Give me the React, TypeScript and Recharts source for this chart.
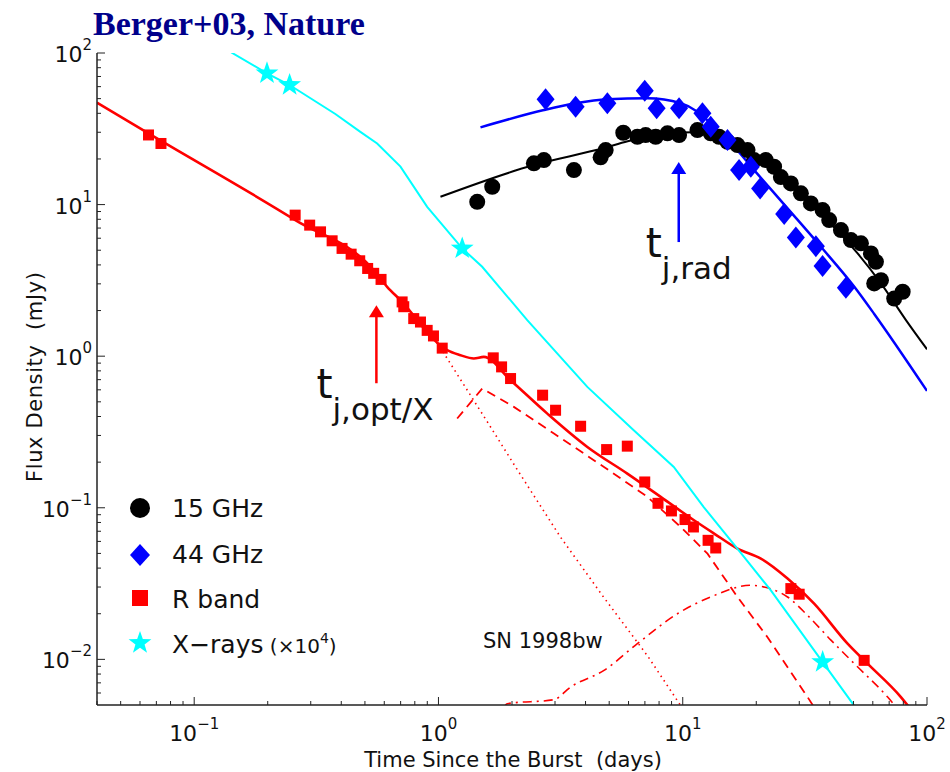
import React from 'react';
import { ComposedChart, Line, Scatter, XAxis, YAxis, ReferenceLine } from 'recharts';

// ---------- data (time in days, flux density in mJy) ----------
const rBandObs: [number, number][] = [
  [0.065, 28.8], [0.0731, 25.3], [0.259, 8.52], [0.297, 7.32], [0.329, 6.61], [0.367, 5.77],
  [0.403, 5.14], [0.439, 4.71], [0.476, 4.26], [0.513, 3.79], [0.543, 3.52], [0.582, 3.21],
  [0.71, 2.28], [0.721, 2.12], [0.792, 1.77], [0.844, 1.68], [0.899, 1.48], [0.954, 1.36],
  [1.036, 1.13], [1.676, 0.975], [1.813, 0.85], [1.973, 0.712], [2.669, 0.553], [3.016, 0.44],
  [3.819, 0.345], [4.88, 0.242], [5.93, 0.255], [6.99, 0.148], [7.92, 0.107], [8.99, 0.0953],
  [10.22, 0.0836], [11.06, 0.0747], [12.7, 0.061], [13.65, 0.0543], [27.71, 0.0293],
  [29.97, 0.0269], [55.3, 0.00985],
];
const xrayObs: [number, number][] = [[0.1986, 73.5], [0.2458, 61.5], [1.251, 5.14], [37.4, 0.0096]];
const ghz15Obs: [number, number][] = [
  [1.441, 10.43], [1.66, 13.11], [2.458, 18.71], [2.701, 19.67], [3.585, 16.89], [4.612, 20.49],
  [4.836, 22.89], [5.71, 29.78], [6.52, 28.03], [7.05, 28.76], [7.75, 28.03], [8.66, 29.51],
  [9.66, 28.76], [11.49, 31.02], [13.02, 29.51], [14.08, 28.03], [15.25, 25.97], [16.75, 24.7],
  [18.42, 22.89], [19.6, 19.67], [21.88, 19.67], [23.66, 17.77], [25.22, 15.19], [27.71, 13.8],
  [30.45, 11.86], [33.46, 10.18], [37.37, 9.2], [39.78, 7.9], [44.43, 6.79], [48.82, 5.83],
  [53.64, 5.55], [58.95, 4.76], [61.8, 4.19], [60.8, 3.02], [64.8, 3.17], [73.4, 2.4], [79.5, 2.66],
];
const ghz44Obs: [number, number][] = [
  [2.745, 49.5], [3.643, 44.2], [4.914, 46.6], [6.99, 56.4], [7.82, 43.2], [9.66, 43.2],
  [12.04, 40.0], [13.02, 32.6], [15.25, 26.7], [17.01, 16.89], [19.0, 17.77], [20.74, 12.79],
  [26.02, 8.66], [29.05, 6.06], [35.08, 5.32], [37.37, 3.93], [46.56, 2.83],
];

// model curves
const rBandModel: [number, number][] = [
  [0.04, 47.0], [0.065, 29.5], [0.2594, 7.9], [0.543, 3.7], [0.6163, 2.87], [0.699, 2.34],
  [1.036, 1.15], [1.086, 1.095], [1.231, 1.015], [1.395, 0.966], [1.533, 0.989], [1.973, 0.694],
  [2.79, 0.418], [4.068, 0.252], [5.93, 0.168], [8.125, 0.118], [11.12, 0.0827], [13.44, 0.0676],
  [16.75, 0.0538], [20.88, 0.0462], [26.86, 0.0341], [34.52, 0.0233], [47.3, 0.0127],
  [57.1, 0.00937], [78.2, 0.00564], [87.5, 0.0045],
];
const rBandEarly: [number, number][] = [
  [0.96, 1.32], [1.588, 0.367], [2.108, 0.177], [3.162, 0.0639], [4.745, 0.0257], [7.19, 0.0105], [10.5, 0.0042],
];
const rBandJet: [number, number][] = [
  [1.193, 0.388], [1.51, 0.612], [2.035, 0.463], [2.969, 0.309], [4.76, 0.186], [7.17, 0.118],
  [9.81, 0.0747], [12.63, 0.0498], [16.75, 0.0258], [22.24, 0.014], [32.44, 0.00564], [36.5, 0.0042],
];
const snModel: [number, number][] = [
  [1.85, 0.0048], [1.912, 0.0051], [2.969, 0.00542], [3.475, 0.00657], [4.76, 0.00846],
  [6.52, 0.0127], [9.51, 0.02], [13.02, 0.0258], [19.0, 0.0308], [21.54, 0.03], [26.86, 0.0258],
  [32.44, 0.0195], [40.43, 0.0134], [50.4, 0.00937], [69.0, 0.00564], [76.8, 0.0046],
];
const xrayModel: [number, number][] = [
  [0.13, 113], [0.1431, 100], [0.1986, 73.5], [0.2458, 61.5], [0.3783, 39.6],
  [0.4789, 30.2], [0.561, 25.3], [0.699, 17.8], [0.899, 9.67], [1.251, 5.14], [1.51, 3.89],
  [2.309, 1.73], [4.068, 0.627], [6.3, 0.325], [9.19, 0.186], [12.19, 0.101], [16.96, 0.0524],
  [22.95, 0.0285], [37.4, 0.0096], [47.9, 0.00553], [52, 0.0046],
];
const ghz15Model: [number, number][] = [
  [1.019, 11.26], [2.451, 18.23], [4.745, 23.6], [5.95, 26.2], [7.61, 28.5], [9.81, 29.9],
  [11.09, 30.0], [13.02, 28.8], [14.72, 26.8], [17.3, 23.4], [20.24, 20.2], [27.71, 13.45],
  [37.84, 8.31], [52.0, 4.76], [64.8, 3.02], [82.0, 1.73], [100, 1.11],
];
const ghz44Model: [number, number][] = [
  [1.486, 32.3], [2.701, 42.05], [3.643, 46.6], [4.914, 49.5], [7.17, 50.2], [9.81, 46.6],
  [11.49, 41.0], [13.44, 32.6], [16.23, 24.07], [19.6, 16.89], [26.86, 9.44], [36.78, 5.27],
  [50.4, 2.87], [60.8, 1.9], [100, 0.59],
];

// arrows (jet break times)
const optArrow: [number, number][] = [[0.557, 0.663], [0.557, 2.17]];
const radArrow: [number, number][] = [[9.63, 5.66], [9.63, 19.1]];

// axes
const xDomain: [number, number] = [0.04, 100];
const yDomain: [number, number] = [0.005, 100];
const xMajorTicks = [0.1, 1, 10, 100];
const xMajorLabels = ['\u22121', '0', '1', '2'];
const xMinorTicks = [0.04, 0.05, 0.06, 0.07, 0.08, 0.09, 0.2, 0.3, 0.4, 0.5, 0.6, 0.7, 0.8, 0.9,
  2, 3, 4, 5, 6, 7, 8, 9, 20, 30, 40, 50, 60, 70, 80, 90];
const yMajorTicks = [0.01, 0.1, 1, 10, 100];
const yMajorLabels = ['\u22122', '\u22121', '0', '1', '2'];
const yMinorTicks = [0.006, 0.007, 0.008, 0.009, 0.02, 0.03, 0.04, 0.05, 0.06, 0.07, 0.08, 0.09,
  0.2, 0.3, 0.4, 0.5, 0.6, 0.7, 0.8, 0.9, 2, 3, 4, 5, 6, 7, 8, 9, 20, 30, 40, 50, 60, 70, 80, 90];
const xTicks = [...xMajorTicks, ...xMinorTicks].sort((a, b) => a - b);
const yTicks = [...yMajorTicks, ...yMinorTicks].sort((a, b) => a - b);

const legendItems = ['15 GHz', '44 GHz', 'R band', 'X\u2212rays'];

const pts = (a: [number, number][]) => a.map(([t, f]) => ({ t, f }));

const FONT = '"DejaVu Sans", sans-serif';
const AX = '#222';

function starPath(cx: number, cy: number, R: number) {
  const r = R * 0.4;
  let d = '';
  for (let i = 0; i < 10; i++) {
    const ang = -Math.PI / 2 + (i * Math.PI) / 5;
    const rad = i % 2 === 0 ? R : r;
    d += (i === 0 ? 'M' : 'L') + (cx + rad * Math.cos(ang)).toFixed(2) + ',' + (cy + rad * Math.sin(ang)).toFixed(2);
  }
  return d + 'Z';
}

const CircleShape = (p: any) => <circle cx={p.cx} cy={p.cy} r={8} fill="#000" />;
const DiamondShape = (p: any) => (
  <path d={`M${p.cx},${p.cy - 11}L${p.cx + 9},${p.cy}L${p.cx},${p.cy + 11}L${p.cx - 9},${p.cy}Z`} fill="#0000FF" />
);
const SquareShape = (p: any) => <rect x={p.cx - 5.5} y={p.cy - 5.5} width={11} height={11} fill="#FF0000" />;
const StarShape = (p: any) => <path d={starPath(p.cx, p.cy, 12)} fill="#00FFFF" />;

const BottomTick = (p: any) => {
  const i = xMajorTicks.indexOf(p.payload.value);
  return (
    <g>
      <line x1={p.x} x2={p.x} y1={p.y} y2={p.y - (i >= 0 ? 8 : 4)} stroke={AX} strokeWidth={1} />
      {i >= 0 && (
        <text x={p.x} y={p.y + 36} textAnchor="middle" fontFamily={FONT} fontSize={22} fill="#111">
          10<tspan dy={-12} fontSize={15}>{xMajorLabels[i]}</tspan>
        </text>
      )}
    </g>
  );
};
const TopTick = (p: any) => {
  const i = xMajorTicks.indexOf(p.payload.value);
  return <line x1={p.x} x2={p.x} y1={p.y} y2={p.y + (i >= 0 ? 8 : 4)} stroke={AX} strokeWidth={1} />;
};
const LeftTick = (p: any) => {
  const i = yMajorTicks.indexOf(p.payload.value);
  return (
    <g>
      <line x1={p.x} x2={p.x + (i >= 0 ? 8 : 4)} y1={p.y} y2={p.y} stroke={AX} strokeWidth={1} />
      {i >= 0 && (
        <text x={p.x - 5} y={p.y + 9} textAnchor="end" fontFamily={FONT} fontSize={22} fill="#111">
          10<tspan dy={-12} fontSize={15}>{yMajorLabels[i]}</tspan>
        </text>
      )}
    </g>
  );
};
const RightTick = (p: any) => {
  const i = yMajorTicks.indexOf(p.payload.value);
  return <line x1={p.x} x2={p.x - (i >= 0 ? 8 : 4)} y1={p.y} y2={p.y} stroke={AX} strokeWidth={1} />;
};

const arrowShape = (color: string, label: string, tdx: number) => (p: any) => {
  const { x1, y1, x2, y2 } = p;
  return (
    <g>
      <line x1={x1} y1={y1} x2={x2} y2={y2 + 11} stroke={color} strokeWidth={2.5} />
      <path d={`M${x2},${y2}L${x2 + 7.5},${y2 + 12}L${x2 - 7.5},${y2 + 12}Z`} fill={color} />
      <text x={x1 + tdx} y={y1 + 15} fontFamily={FONT} fontSize={41} fill="#111">
        t<tspan dy={22} fontSize={31}>{label}</tspan>
      </text>
    </g>
  );
};

export default function App() {
  const common = { xAxisId: 'b', yAxisId: 'l', isAnimationActive: false } as const;
  return (
    <div style={{ position: 'absolute', left: 0, top: 0, width: 950, height: 772, background: '#fff' }}>
      <ComposedChart width={950} height={772} margin={{ top: 53, right: 23, bottom: 27, left: 37 }}>
        <XAxis xAxisId="b" type="number" dataKey="t" scale="log" domain={xDomain} allowDataOverflow
          ticks={xTicks} interval={0} tick={BottomTick} tickLine={false} tickSize={0} tickMargin={0}
          height={40} axisLine={{ stroke: AX, strokeWidth: 1.5 }} />
        <XAxis xAxisId="t" orientation="top" type="number" dataKey="t" scale="log" domain={xDomain} allowDataOverflow
          ticks={xTicks} interval={0} tick={TopTick} tickLine={false} tickSize={0} tickMargin={0}
          height={0} axisLine={{ stroke: AX, strokeWidth: 1.5 }} />
        <YAxis yAxisId="l" type="number" dataKey="f" scale="log" domain={yDomain} allowDataOverflow
          ticks={yTicks} interval={0} tick={LeftTick} tickLine={false} tickSize={0} tickMargin={0}
          width={60} axisLine={{ stroke: AX, strokeWidth: 1.5 }} />
        <YAxis yAxisId="r" orientation="right" type="number" dataKey="f" scale="log" domain={yDomain} allowDataOverflow
          ticks={yTicks} interval={0} tick={RightTick} tickLine={false} tickSize={0} tickMargin={0}
          width={0} axisLine={{ stroke: AX, strokeWidth: 1.5 }} />

        <Line {...common} data={pts(rBandEarly)} dataKey="f" type="linear" dot={false} stroke="#FF0000" strokeWidth={1.6} strokeDasharray="1.5 4" />
        <Line {...common} data={pts(rBandJet)} dataKey="f" type="linear" dot={false} stroke="#FF0000" strokeWidth={1.8} strokeDasharray="9 6" />
        <Line {...common} data={pts(snModel)} dataKey="f" type="monotone" dot={false} stroke="#FF0000" strokeWidth={1.6} strokeDasharray="9 5 2 5" />
        <Line {...common} data={pts(rBandModel)} dataKey="f" type="monotone" dot={false} stroke="#FF0000" strokeWidth={2.6} />
        <Scatter {...common} data={pts(rBandObs)} shape={SquareShape} />
        <Line {...common} data={pts(xrayModel)} dataKey="f" type="linear" dot={false} stroke="#00FFFF" strokeWidth={2} />
        <Scatter {...common} data={pts(xrayObs)} shape={StarShape} />
        <Line {...common} data={pts(ghz15Model)} dataKey="f" type="monotone" dot={false} stroke="#000" strokeWidth={2} />
        <Scatter {...common} data={pts(ghz15Obs)} shape={CircleShape} />
        <Line {...common} data={pts(ghz44Model)} dataKey="f" type="monotone" dot={false} stroke="#0000FF" strokeWidth={2.5} />
        <Scatter {...common} data={pts(ghz44Obs)} shape={DiamondShape} />

        <ReferenceLine xAxisId="b" yAxisId="l" segment={optArrow.map(([x, y]) => ({ x, y }))}
          shape={arrowShape('#FF0000', 'j,opt/X', -60)} />
        <ReferenceLine xAxisId="b" yAxisId="l" segment={radArrow.map(([x, y]) => ({ x, y }))}
          shape={arrowShape('#0000FF', 'j,rad', -33)} />
      </ComposedChart>

      <svg width={950} height={772} style={{ position: 'absolute', left: 0, top: 0, pointerEvents: 'none' }}>
        <text x={93} y={35} fontFamily='"Liberation Serif", "Times New Roman", serif' fontWeight="bold" fontSize={34} fill="#00008B">
          Berger+03, Nature
        </text>
        <text x={513} y={767} textAnchor="middle" fontFamily={FONT} fontSize={21} fill="#111">
          Time Since the Burst{'\u00a0\u00a0'}(days)
        </text>
        <text transform="translate(42,377) rotate(-90)" textAnchor="middle" fontFamily={FONT} fontSize={21} fill="#111"
          textLength={210} lengthAdjust="spacing">
          Flux Density{'\u00a0\u00a0'}(mJy)
        </text>
        <text x={483} y={648} fontFamily={FONT} fontSize={21} fill="#111">SN 1998bw</text>

        {/* legend */}
        <circle cx={140} cy={508} r={10} fill="#000" />
        <path d="M140,544L150,555L140,566L130,555Z" fill="#0000FF" />
        <rect x={132} y={590} width={16} height={16} fill="#FF0000" />
        <path d={starPath(140, 643, 12)} fill="#00FFFF" />
        {legendItems.slice(0, 3).map((s, i) => (
          <text key={s} x={172} y={517 + i * 45.5} fontFamily={FONT} fontSize={25} fill="#111">{s}</text>
        ))}
        <text x={172} y={653} fontFamily={FONT} fontSize={25} fill="#111">
          {legendItems[3]}
          <tspan fontSize={20}>{'\u00a0(\u00d710'}</tspan>
          <tspan fontSize={14} dy={-10}>4</tspan>
          <tspan fontSize={20} dy={10}>)</tspan>
        </text>
      </svg>
    </div>
  );
}
